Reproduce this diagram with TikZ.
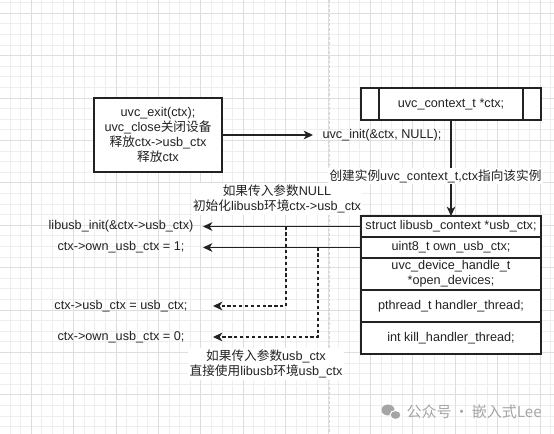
\documentclass[tikz,border=0pt]{standalone}
\usepackage{fontspec}
\setmainfont{Liberation Sans}
\newfontfamily\cjk{Noto Sans CJK SC}
\usetikzlibrary{arrows.meta,positioning}

\definecolor{inkc}{RGB}{34,34,34}
\definecolor{gridminor}{RGB}{238,238,238}
\definecolor{gridmajor}{RGB}{222,222,222}
\definecolor{pagec}{RGB}{212,212,212}
\definecolor{markc}{RGB}{165,165,165}

\tikzset{every picture/.style={line width=0.75pt}}
\tikzset{
	txt/.style={font=\fontsize{9.5}{11.4}\selectfont, text=inkc, align=center},
	box/.style={txt, draw=inkc, line width=1pt, fill=white, outer sep=0pt},
	row/.style={box, minimum width=135pt, inner sep=1pt},
	code/.style={txt, inner sep=0pt, outer sep=0pt, minimum height=12pt},
	note/.style={txt, fill=white, inner sep=1pt},
	solidarrow/.style={draw=inkc, line width=1pt, -{Stealth[length=7pt,width=6.5pt,inset=2pt]}},
	dasharrow/.style={solidarrow, dash pattern=on 2.4pt off 2pt}
}

\begin{document}
\begin{tikzpicture}[x=0.75pt,y=0.75pt,yscale=-1,xscale=1]
	\useasboundingbox (0,0) rectangle (554,434);
	\fill[white] (0,0) rectangle (554,434);

	%Grid
	\begin{scope}
	\clip (0,0) rectangle (554,434);
	\foreach \gx in {-11.3,-0.7,...,560} \draw[gridminor, line width=0.6pt] (\gx,0) -- (\gx,434);
	\foreach \gy in {-29.1,-18.5,...,440} \draw[gridminor, line width=0.6pt] (0,\gy) -- (554,\gy);
	\foreach \gx in {-11.3,31.1,...,560} \draw[gridmajor, line width=0.6pt] (\gx,0) -- (\gx,434);
	\foreach \gy in {-29.1,13.3,...,440} \draw[gridmajor, line width=0.6pt] (0,\gy) -- (554,\gy);
	%page break
	\draw[pagec, line width=0.6pt, dash pattern=on 2pt off 1.5pt] (329,0) -- (329,434);
	\end{scope}

	%Shape: Rectangle [exit]
	\node[box, minimum width=96pt, minimum height=55.5pt, inner sep=1pt] (exitbox) at (158,135)
		{uvc\_exit(ctx);\\uvc\_close{\cjk 关闭设备}\\{\cjk 释放}ctx->usb\_ctx\\{\cjk 释放}ctx};
	% Text Node
	\node[txt, anchor=west, inner xsep=6.75pt, inner ysep=1pt] (init) at (313,135) {uvc\_init(\&ctx, NULL);};
	\draw[solidarrow] (exitbox.east) -- (init.west);

	%Shape: Process [ctx]
	\node[box, minimum width=135pt, minimum height=24pt] (ctxbox) at (451,104) {uvc\_context\_t *ctx;};
	\draw[inkc, line width=1pt] ([xshift=13.5pt]ctxbox.north west) -- ([xshift=13.5pt]ctxbox.south west);
	\draw[inkc, line width=1pt] ([xshift=-13.5pt]ctxbox.north east) -- ([xshift=-13.5pt]ctxbox.south east);

	%Shape: Table [uvc_context]
	\node[row, minimum height=15.75pt] (usbctx) at (451,226.5) {struct libusb\_context *usb\_ctx;};
	\node[row, minimum height=15.75pt, below=0pt of usbctx] (ownctx) {uint8\_t own\_usb\_ctx;};
	\node[row, minimum height=24pt, below=0pt of ownctx] (opendev) {uvc\_device\_handle\_t\\*open\_devices;};
	\node[row, minimum height=24pt, below=0pt of opendev] (hthread) {pthread\_t handler\_thread;};
	\node[row, minimum height=24pt, below=0pt of hthread] (kthread) {int kill\_handler\_thread;};

	%Straight Lines [create]
	\draw[solidarrow] (ctxbox.south) -- (usbctx.north);
	% Text Node
	\node[note] (createnote) at (435.5,176) {{\cjk 创建实例}uvc\_context\_t,ctx{\cjk 指向该实例}};

	% Text Node
	\node[code, minimum width=123pt] (libinit) at (121,226.5) {libusb\_init(\&ctx->usb\_ctx)};
	\node[code, minimum width=123pt] (ownone) at (121,247.5) {ctx->own\_usb\_ctx = 1;};
	\node[code, minimum width=138pt] (useusb) at (121,306) {ctx->usb\_ctx = usb\_ctx;};
	\node[code, minimum width=138pt] (ownzero) at (121,337) {ctx->own\_usb\_ctx = 0;};

	%Straight Lines [to left]
	\draw[solidarrow] (usbctx.west) -- (libinit.east);
	\draw[solidarrow] (ownctx.west) -- (ownone.east);

	%Dashed Lines [given usb_ctx]
	\coordinate (branchA) at (286,226.5);
	\coordinate (branchB) at (318,247.5);
	\draw[dasharrow] (branchA) |- (useusb.east);
	\draw[dasharrow] (branchB) |- (ownzero.east);

	% Text Node
	\node[note] (nullnote) at (277,199) {{\cjk 如果传入参数}NULL\\{\cjk 初始化}libusb{\cjk 环境}ctx->usb\_ctx};
	% Text Node
	\node[note] (usbnote) at (266,364) {{\cjk 如果传入参数}usb\_ctx\\{\cjk 直接使用}libusb{\cjk 环境}usb\_ctx};

	%Watermark
	\fill[markc] (388,410) ellipse (6.5 and 5.5);
	\fill[markc, draw=white, line width=0.8pt] (395.5,415) ellipse (5.5 and 4.5);
	\node[anchor=west, text=markc, font=\cjk\fontsize{11.3}{13}\selectfont, inner sep=0pt] (mark) at (406,412) {公众号\,·\,嵌入式Lee};
\end{tikzpicture}
\end{document}
